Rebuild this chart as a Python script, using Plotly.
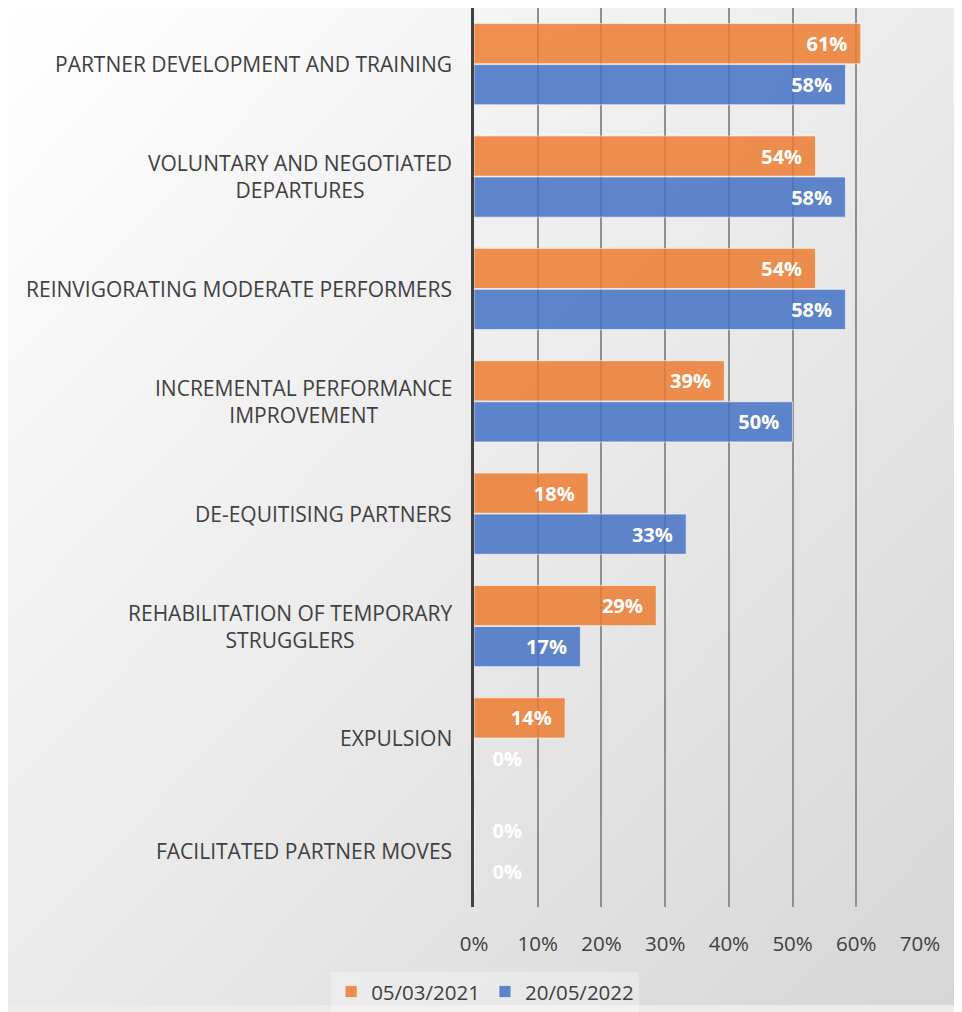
import base64
import plotly.graph_objects as go

categories = [
    "PARTNER DEVELOPMENT AND TRAINING",
    "VOLUNTARY AND NEGOTIATED<br>DEPARTURES",
    "REINVIGORATING MODERATE PERFORMERS",
    "INCREMENTAL PERFORMANCE<br>IMPROVEMENT",
    "DE-EQUITISING PARTNERS",
    "REHABILITATION OF TEMPORARY<br>STRUGGLERS",
    "EXPULSION",
    "FACILITATED PARTNER MOVES",
]
series_names = ["05/03/2021", "20/05/2022"]
values_2021 = [0.607, 0.536, 0.536, 0.393, 0.179, 0.286, 0.143, 0.0]
values_2022 = [0.583, 0.583, 0.583, 0.500, 0.333, 0.167, 0.0, 0.0]
x_ticks = [0, 0.1, 0.2, 0.3, 0.4, 0.5, 0.6, 0.7]

# page sits 8px in from the window edge
W, H = 954, 1004
ML, MR, MT, MB = 466, 42, 0, 99
PW, PH = W - ML - MR, H - MT - MB

colors = ["rgba(237,125,49,0.85)", "rgba(68,114,196,0.85)"]

fig = go.Figure()
for name, vals, col in zip(series_names, [values_2021, values_2022], colors):
    fig.add_trace(go.Bar(
        y=categories,
        x=vals,
        name=name,
        orientation="h",
        marker=dict(color=col, line=dict(color="rgba(255,255,255,0.6)", width=1)),
        texttemplate=["%{x:.0%}\u00a0\u00a0" if v > 0 else "\u00a0\u00a0\u00a0%{x:.0%}" for v in vals],
        textposition=["inside" if v > 0 else "outside" for v in vals],
        insidetextanchor="end",
        textfont=dict(color="white", size=20, family="Open Sans", weight="bold"),
        outsidetextfont=dict(color="white", size=20, family="Open Sans", weight="bold"),
        cliponaxis=False,
    ))

# category labels as centred annotations
for c in categories:
    fig.add_annotation(
        x=0, xref="paper", y=c, yref="y", text=c, showarrow=False,
        xanchor="right", align="center", xshift=-20,
        font=dict(size=21, color="#404040", family="Open Sans"),
    )

svg = (
    f'<svg xmlns="http://www.w3.org/2000/svg" width="{W}" height="{H}">'
    '<defs><linearGradient id="g" x1="0" y1="0" x2="1" y2="1">'
    '<stop offset="0" stop-color="#ffffff"/><stop offset="1" stop-color="#d6d6d6"/>'
    '</linearGradient></defs>'
    f'<rect width="{W}" height="{H}" fill="url(#g)"/></svg>'
)
bg = "data:image/svg+xml;base64," + base64.b64encode(svg.encode()).decode()
fig.add_layout_image(
    source=bg, xref="paper", yref="paper",
    x=-ML / PW, y=1 + MT / PH, sizex=W / PW, sizey=H / PH,
    xanchor="left", yanchor="top", sizing="stretch", layer="below",
)

fig.update_layout(
    width=W, height=H,
    margin=dict(l=ML, r=MR, t=MT, b=MB),
    paper_bgcolor="#ececec",
    plot_bgcolor="rgba(0,0,0,0)",
    barmode="group",
    bargap=0.27,
    bargroupgap=0.02,
    font=dict(family="Open Sans", color="#404040", size=20),
    showlegend=True,
    legend=dict(
        orientation="h", x=0.025, xanchor="center", y=-0.072, yanchor="top",
        bgcolor="rgba(255,255,255,0.3)", font=dict(size=20.5, color="#404040"),
        traceorder="normal", itemwidth=30,
    ),
    xaxis=dict(
        range=[0, 0.7], tickvals=x_ticks, tickformat=".0%",
        showgrid=True, gridcolor="#8f8f8f", gridwidth=1.5,
        zeroline=False, showline=False, ticks="", ticklabelstandoff=22,
        tickfont=dict(size=20.5, color="#404040"),
    ),
    yaxis=dict(
        autorange="reversed", showticklabels=False, showgrid=False,
        showline=True, linecolor="#404040", linewidth=3, zeroline=False,
    ),
)

fig.write_html("out.html")
